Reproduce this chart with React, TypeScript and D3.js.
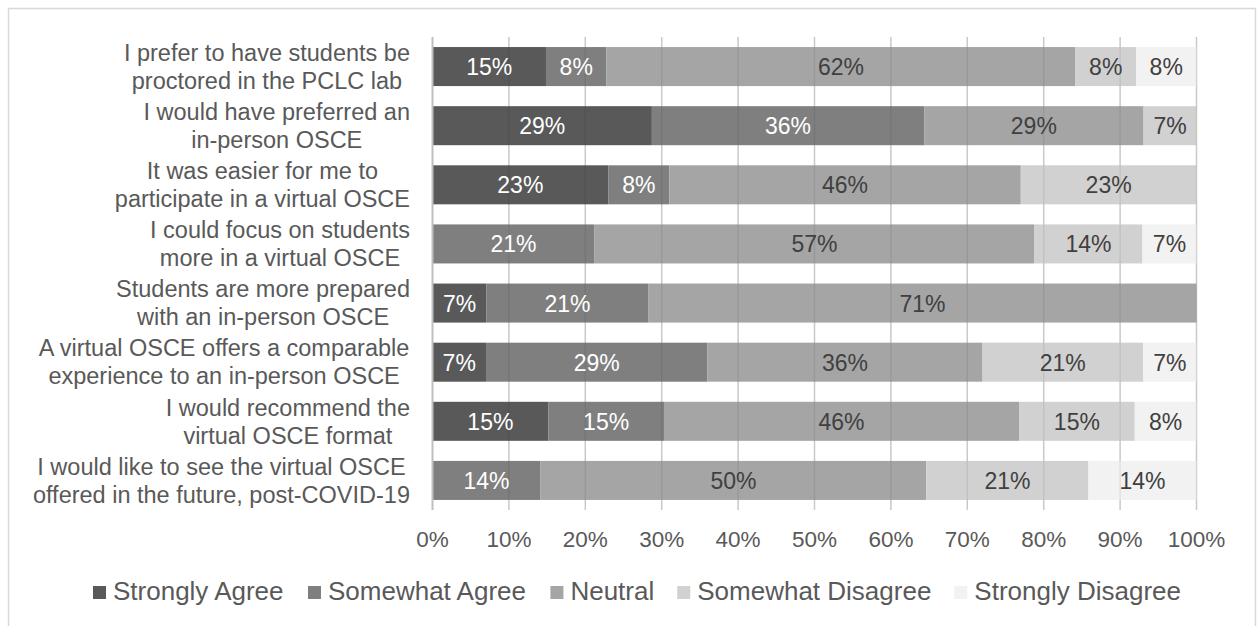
import React from "react";
import * as d3 from "d3";

// Survey statements (each wrapped onto two lines)
const statements: string[][] = [
  ["I prefer to have students be", "proctored in the PCLC lab"],
  ["I would have preferred an", "in-person OSCE"],
  ["It was easier for me to", "participate in a virtual OSCE"],
  ["I could focus on students", "more in a virtual OSCE"],
  ["Students are more prepared", "with an in-person OSCE"],
  ["A virtual OSCE offers a comparable", "experience to an in-person OSCE"],
  ["I would recommend the", "virtual OSCE format"],
  ["I would like to see the virtual OSCE", "offered in the future, post-COVID-19"],
];

const responseLevels = [
  "Strongly Agree",
  "Somewhat Agree",
  "Neutral",
  "Somewhat Disagree",
  "Strongly Disagree",
];

// Percent of respondents per statement, one array per response level
const stronglyAgree = [15, 29, 23, 0, 7, 7, 15, 0];
const somewhatAgree = [8, 36, 8, 21, 21, 29, 15, 14];
const neutral = [62, 29, 46, 57, 71, 36, 46, 50];
const somewhatDisagree = [8, 7, 23, 14, 0, 21, 15, 21];
const stronglyDisagree = [8, 0, 0, 7, 0, 7, 8, 14];

const tickValues = [0, 0.1, 0.2, 0.3, 0.4, 0.5, 0.6, 0.7, 0.8, 0.9, 1];

const seriesValues = [stronglyAgree, somewhatAgree, neutral, somewhatDisagree, stronglyDisagree];
const fills = ["#595959", "#7f7f7f", "#a5a5a5", "#d1d1d1", "#f2f2f2"];
const labelFills = ["#ffffff", "#ffffff", "#404040", "#404040", "#404040"];

const FONT = "'Liberation Sans', Arial, sans-serif";
const TEXT = "#595959";

function measure(text: string, size: number): number {
  const canvas = document.createElement("canvas");
  const ctx = canvas.getContext("2d")!;
  ctx.font = `${size}px 'Liberation Sans', Arial, sans-serif`;
  return ctx.measureText(text).width;
}

export default function App() {
  const width = 1258;
  const height = 626;

  const rows = statements.map((lines, i) => {
    const row: Record<string, number | string> = { key: String(i) };
    responseLevels.forEach((lvl, s) => (row[lvl] = seriesValues[s][i]));
    return row;
  });

  const stack = d3
    .stack<Record<string, number | string>>()
    .keys(responseLevels)
    .value((d, k) => d[k] as number)
    .offset(d3.stackOffsetExpand);
  const layers = stack(rows);

  const x = d3.scaleLinear().domain([0, 1]).range([432.5, 1196.5]);
  const y = d3
    .scaleBand<string>()
    .domain(rows.map((r) => r.key as string))
    .range([37, 510])
    .paddingInner(0.34)
    .paddingOuter(0.17);
  const bw = y.bandwidth();
  const pct = d3.format(".0%");

  // Category labels: block right-aligned, lines centred within the block
  const labelSize = 23.5;
  const labelRight = 410;
  const lineH = 28;

  // Legend layout, centred below the axis
  const legendSize = 26;
  const markerW = 13;
  const markerGap = 7;
  const itemGap = 23;
  const itemWidths = responseLevels.map((t) => markerW + markerGap + measure(t, legendSize));
  const legendTotal = d3.sum(itemWidths) + itemGap * (responseLevels.length - 1);
  let cursor = 637 - legendTotal / 2;
  const legendItems = responseLevels.map((t, i) => {
    const item = { t, x: cursor, fill: fills[i] };
    cursor += itemWidths[i] + itemGap;
    return item;
  });

  return (
    <svg
      width={width}
      height={height}
      style={{ position: "absolute", left: 0, top: 0, background: "#fff" }}
      fontFamily={FONT}
    >
      <rect x={8.5} y={8.5} width={1247} height={640} fill="#fff" stroke="#d9d9d9" strokeWidth={1.5} />

      {/* gridlines behind the bars */}
      {tickValues.slice(1).map((t) => (
        <line key={"g" + t} x1={x(t)} x2={x(t)} y1={37} y2={510} stroke="#d9d9d9" strokeWidth={1.5} />
      ))}

      {/* stacked bars */}
      {layers.map((layer, s) => (
        <g key={layer.key}>
          {layer.map((d, i) =>
            d[1] - d[0] > 0 ? (
              <rect
                key={i}
                x={x(d[0])}
                y={y(String(i))!}
                width={x(d[1]) - x(d[0])}
                height={bw}
                fill={fills[s]}
              />
            ) : null
          )}
        </g>
      ))}

      {/* gridlines faintly visible through the bars */}
      {tickValues.slice(1).map((t) => (
        <line key={"o" + t} x1={x(t)} x2={x(t)} y1={37} y2={510} stroke="#000" strokeOpacity={0.07} strokeWidth={1.5} />
      ))}

      {/* value labels */}
      {layers.map((layer, s) => (
        <g key={"l" + layer.key}>
          {layer.map((d, i) => {
            const v = seriesValues[s][i];
            if (!v) return null;
            return (
              <text
                key={i}
                x={(x(d[0]) + x(d[1])) / 2}
                y={y(String(i))! + bw / 2 + 8.5}
                textAnchor="middle"
                fontSize={23}
                fill={labelFills[s]}
              >
                {pct(v / 100)}
              </text>
            );
          })}
        </g>
      ))}

      {/* category axis line */}
      <line x1={432.5} x2={432.5} y1={37} y2={510} stroke="#bfbfbf" strokeWidth={2} />

      {/* category labels */}
      {statements.map((lines, i) => {
        const blockW = d3.max(lines, (l) => measure(l, labelSize))!;
        const cx = labelRight - blockW / 2;
        const cy = y(String(i))! + bw / 2;
        return (
          <text key={"c" + i} textAnchor="middle" fontSize={labelSize} fill={TEXT}>
            {lines.map((l, j) => (
              <tspan key={j} x={cx} y={cy + (j - (lines.length - 1) / 2) * lineH + 8.3}>
                {l}
              </tspan>
            ))}
          </text>
        );
      })}

      {/* value axis tick labels */}
      {tickValues.map((t) => (
        <text key={"t" + t} x={x(t)} y={547} textAnchor="middle" fontSize={22.5} fill={TEXT}>
          {pct(t)}
        </text>
      ))}

      {/* legend */}
      {legendItems.map((it) => (
        <g key={it.t}>
          <rect x={it.x} y={586} width={markerW} height={markerW} fill={it.fill} />
          <text x={it.x + markerW + markerGap} y={600} fontSize={legendSize} fill={TEXT}>
            {it.t}
          </text>
        </g>
      ))}
    </svg>
  );
}
